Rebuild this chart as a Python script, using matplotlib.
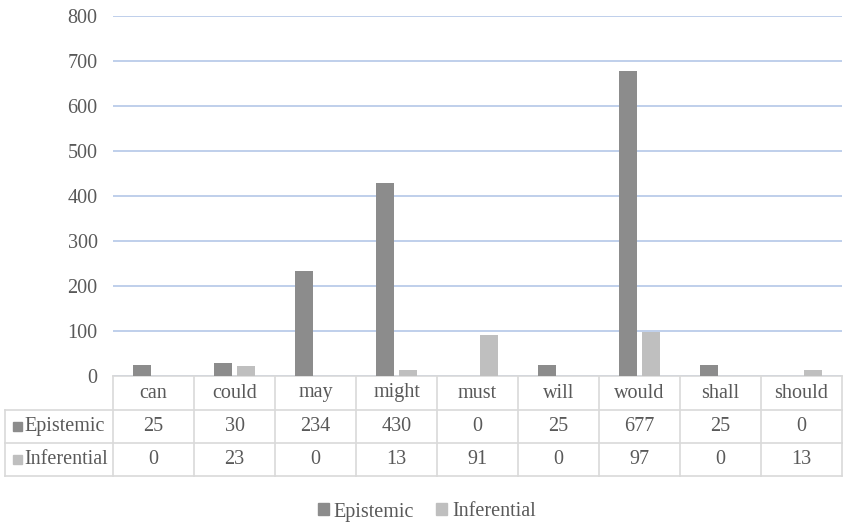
import matplotlib
matplotlib.use("Agg")
import matplotlib.pyplot as plt
from matplotlib.lines import Line2D
from matplotlib.patches import Rectangle
import matplotlib.transforms as mtransforms

categories = ["can", "could", "may", "might", "must", "will", "would", "shall", "should"]
epistemic = [25, 30, 234, 430, 0, 25, 677, 25, 0]
inferential = [0, 23, 0, 13, 91, 0, 97, 0, 13]
series_names = ["Epistemic", "Inferential"]
yticks = [0, 100, 200, 300, 400, 500, 600, 700, 800]

COL_EPI = "#8c8c8c"
COL_INF = "#bfbfbf"
TEXT = "#595959"
GRID = "#b4c7e7"
LINE = "#d9d9d9"
FONT = "Liberation Serif"
FS = 14.5

W, H = 849, 525
fig = plt.figure(figsize=(W / 100, H / 100), dpi=100)

# plot area in pixels
px_left, px_right, px_top, px_bottom = 113, 842, 16, 376
ax = fig.add_axes([px_left / W, 1 - px_bottom / H, (px_right - px_left) / W, (px_bottom - px_top) / H])

n = len(categories)
x = list(range(n))
bw = 0.22
off = 0.14
ax.bar([i - off for i in x], epistemic, width=bw, color=COL_EPI, zorder=3)
ax.bar([i + off for i in x], inferential, width=bw, color=COL_INF, zorder=3)

ax.set_xlim(-0.5, n - 0.5)
ax.set_ylim(0, 800)
ax.set_yticks(yticks)
ax.set_yticklabels([str(v) for v in yticks], fontfamily=FONT, fontsize=FS, color=TEXT)
ax.tick_params(axis="y", length=0, pad=11)
ax.set_xticks([])
ax.yaxis.grid(True, color=GRID, linewidth=1.2, zorder=0)
for s in ["top", "right", "left"]:
    ax.spines[s].set_visible(False)
ax.spines["bottom"].set_color(LINE)
ax.spines["bottom"].set_linewidth(1.2)

# data table below the plot: x in data units, y in pixels from the top
row_edges_px = [376, 410, 443, 476]
px_to_ax = lambda p: (px_bottom - p) / (px_bottom - px_top)
trans = mtransforms.blended_transform_factory(ax.transData, ax.transAxes)
unit_px = (px_right - px_left) / n
label_left = -0.5 - (px_left - 5) / unit_px

def hline(x0, x1, ypx):
    ax.add_line(Line2D([x0, x1], [px_to_ax(ypx)] * 2, transform=trans, color=LINE,
                       linewidth=1.2, clip_on=False))

def vline(xd, y0px, y1px):
    ax.add_line(Line2D([xd, xd], [px_to_ax(y0px), px_to_ax(y1px)], transform=trans,
                       color=LINE, linewidth=1.2, clip_on=False))

for ypx in row_edges_px[1:]:
    hline(label_left, n - 0.5, ypx)
for i in range(n + 1):
    vline(i - 0.5, row_edges_px[0], row_edges_px[-1])
vline(label_left, row_edges_px[1], row_edges_px[-1])

def cell_y(r):
    return px_to_ax((row_edges_px[r] + row_edges_px[r + 1]) / 2)

for i, c in enumerate(categories):
    ax.text(i, cell_y(0), c, transform=trans, ha="center", va="center",
            fontfamily=FONT, fontsize=FS, color=TEXT, clip_on=False)
for r, (vals, col) in enumerate([(epistemic, COL_EPI), (inferential, COL_INF)], start=1):
    for i, v in enumerate(vals):
        ax.text(i, cell_y(r), str(v), transform=trans, ha="center", va="center",
                fontfamily=FONT, fontsize=FS, color=TEXT, clip_on=False)
    # row header with colour key
    kx = label_left + 8 / unit_px
    ky = cell_y(r)
    hpx = 9
    ax.add_patch(Rectangle((kx, ky - (hpx / 2) / (px_bottom - px_top)), hpx / unit_px,
                           hpx / (px_bottom - px_top), transform=trans, color=col,
                           clip_on=False))
    ax.text(kx + 11 / unit_px, ky, series_names[r - 1], transform=trans, ha="left",
            va="center", fontfamily=FONT, fontsize=FS, color=TEXT, clip_on=False)

# legend
handles = [Rectangle((0, 0), 1, 1, color=COL_EPI), Rectangle((0, 0), 1, 1, color=COL_INF)]
fig.legend(handles, series_names, loc="center", bbox_to_anchor=(427 / W, 1 - 512 / H),
           ncol=2, frameon=False, prop={"family": FONT, "size": FS},
           handlelength=0.55, handleheight=0.55, handletextpad=0.25, columnspacing=1.1,
           labelcolor=TEXT)

fig.savefig("out.png", dpi=100)
